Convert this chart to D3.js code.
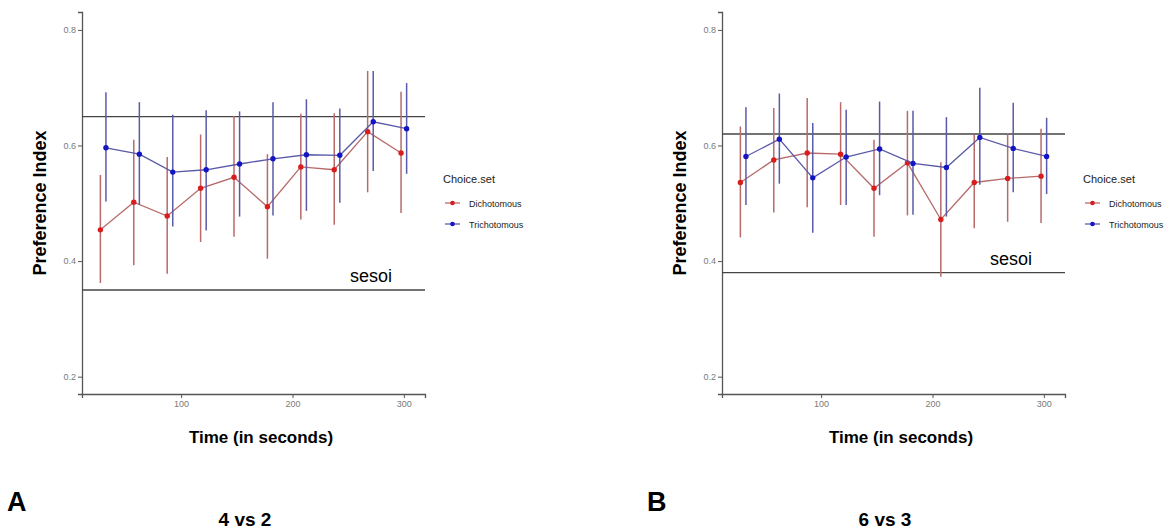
<!DOCTYPE html>
<html>
<head>
<meta charset="utf-8">
<script src="https://cdn.jsdelivr.net/npm/d3@7"></script>
<style>
  body { margin: 0; background: #fff; }
  svg { display: block; font-family: "Liberation Sans", Arial, sans-serif; }
</style>
</head>
<body>
<svg id="chart" width="1175" height="531"></svg>
<script>
// time points (seconds), same for both panels
const times = [30, 60, 90, 120, 150, 180, 210, 240, 270, 300];
const groups = ["Dichotomous", "Trichotomous"];
const yTicks = [0.2, 0.4, 0.6, 0.8];
const xTicks = [100, 200, 300];

// panel A: 4 vs 2
const aDichMean = [0.454, 0.502, 0.478, 0.526, 0.545, 0.494, 0.563, 0.558, 0.624, 0.587];
const aDichLo   = [0.362, 0.393, 0.378, 0.433, 0.442, 0.404, 0.472, 0.463, 0.519, 0.483];
const aDichHi   = [0.549, 0.610, 0.580, 0.619, 0.651, 0.585, 0.655, 0.656, 0.729, 0.693];
const aTriMean  = [0.596, 0.585, 0.554, 0.558, 0.568, 0.577, 0.584, 0.583, 0.641, 0.629];
const aTriLo    = [0.503, 0.497, 0.460, 0.453, 0.477, 0.479, 0.487, 0.501, 0.556, 0.551];
const aTriHi    = [0.692, 0.675, 0.653, 0.661, 0.659, 0.675, 0.680, 0.664, 0.729, 0.708];

// panel B: 6 vs 3
const bDichMean = [0.536, 0.575, 0.587, 0.585, 0.526, 0.570, 0.472, 0.536, 0.543, 0.547];
const bDichLo   = [0.441, 0.484, 0.493, 0.497, 0.442, 0.479, 0.373, 0.457, 0.468, 0.466];
const bDichHi   = [0.633, 0.665, 0.682, 0.675, 0.610, 0.660, 0.571, 0.618, 0.621, 0.629];
const bTriMean  = [0.581, 0.611, 0.544, 0.580, 0.594, 0.569, 0.562, 0.614, 0.595, 0.581];
const bTriLo    = [0.497, 0.534, 0.449, 0.497, 0.514, 0.480, 0.477, 0.532, 0.519, 0.516];
const bTriHi    = [0.666, 0.690, 0.639, 0.662, 0.676, 0.660, 0.649, 0.700, 0.674, 0.648];

// reference lines: upper bound and sesoi
const aRefLines = [0.65, 0.35];
const bRefLines = [0.62, 0.38];

const pointColor = {Dichotomous: "#d91c1c", Trichotomous: "#1414c4"};
const lineColor  = {Dichotomous: "#b86a6a", Trichotomous: "#5a5aa8"};
const dodge = 5;

const svg = d3.select("#chart");

function makeSeries(mean, lo, hi) {
  return times.map((t, i) => ({t: t, m: mean[i], lo: lo[i], hi: hi[i]}));
}

function drawPanel(ox, series, refLines, letter, title) {
  const g = svg.append("g").attr("transform", `translate(${ox},0)`);

  const x = d3.scaleLinear().domain([11, 319]).range([82, 425]);
  const y = d3.scaleLinear().domain([0.17, 0.831]).range([394, 12]);

  // axes
  const gy = g.append("g").attr("transform", "translate(82,0)")
    .call(d3.axisLeft(y).tickValues(yTicks).tickFormat(d3.format(".1f")).tickSize(4).tickPadding(2));
  const gx = g.append("g").attr("transform", "translate(0,394)")
    .call(d3.axisBottom(x).tickValues(xTicks).tickSize(4).tickPadding(3));
  [gx, gy].forEach(a => {
    a.select(".domain").attr("stroke", "#555").attr("stroke-width", 1.3);
    a.selectAll(".tick line").attr("stroke", "#555");
    a.selectAll(".tick text").attr("fill", "#7a7a7a").style("font-size", "9px");
  });

  // reference lines
  g.selectAll(".ref").data(refLines).join("line")
    .attr("x1", 82).attr("x2", 425)
    .attr("y1", d => y(d)).attr("y2", d => y(d))
    .attr("stroke", "#444").attr("stroke-width", 1.4);

  g.append("text")
    .attr("x", 371).attr("y", y(refLines[1]) - 8)
    .attr("text-anchor", "middle")
    .style("font-size", "18px")
    .text("sesoi");

  series.forEach((s, k) => {
    const grp = groups[k];
    const off = k === 0 ? -dodge / 2 : dodge / 2;
    const sg = g.append("g");

    sg.selectAll("line").data(s.values).join("line")
      .attr("x1", d => x(d.t + off)).attr("x2", d => x(d.t + off))
      .attr("y1", d => y(d.lo)).attr("y2", d => y(d.hi))
      .attr("stroke", lineColor[grp]).attr("stroke-width", 1.5);

    sg.append("path").datum(s.values)
      .attr("fill", "none")
      .attr("stroke", lineColor[grp]).attr("stroke-width", 1.3)
      .attr("d", d3.line().x(d => x(d.t + off)).y(d => y(d.m)));

    sg.selectAll("circle").data(s.values).join("circle")
      .attr("cx", d => x(d.t + off)).attr("cy", d => y(d.m))
      .attr("r", 2.7)
      .attr("fill", pointColor[grp]);
  });

  // axis titles
  g.append("text")
    .attr("transform", `translate(46,${(12 + 394) / 2}) rotate(-90)`)
    .attr("text-anchor", "middle")
    .style("font-size", "18px").style("font-weight", "bold")
    .text("Preference Index");
  g.append("text")
    .attr("x", 261).attr("y", 443)
    .attr("text-anchor", "middle")
    .style("font-size", "17px").style("font-weight", "bold")
    .text("Time (in seconds)");

  // legend
  const lg = g.append("g").attr("transform", "translate(443,0)");
  lg.append("text").attr("x", 0).attr("y", 183)
    .attr("fill", "#222").style("font-size", "11px").text("Choice.set");
  groups.forEach((grp, i) => {
    const yy = 203 + i * 21;
    lg.append("line").attr("x1", 2).attr("x2", 17).attr("y1", yy).attr("y2", yy)
      .attr("stroke", lineColor[grp]).attr("stroke-width", 1.3);
    lg.append("circle").attr("cx", 9.5).attr("cy", yy).attr("r", 2.3).attr("fill", pointColor[grp]);
    lg.append("text").attr("x", 26).attr("y", yy + 3.5)
      .attr("fill", "#222").style("font-size", "9px").text(grp);
  });

  // panel letter and caption
  g.append("text").attr("x", 7).attr("y", 511)
    .style("font-size", "27px").style("font-weight", "bold").text(letter);
  g.append("text").attr("x", 245).attr("y", 526)
    .attr("text-anchor", "middle")
    .style("font-size", "19px").style("font-weight", "bold").text(title);
}

drawPanel(0, [
  {values: makeSeries(aDichMean, aDichLo, aDichHi)},
  {values: makeSeries(aTriMean, aTriLo, aTriHi)}
], aRefLines, "A", "4 vs 2");

drawPanel(640, [
  {values: makeSeries(bDichMean, bDichLo, bDichHi)},
  {values: makeSeries(bTriMean, bTriLo, bTriHi)}
], bRefLines, "B", "6 vs 3");
</script>
</body>
</html>
